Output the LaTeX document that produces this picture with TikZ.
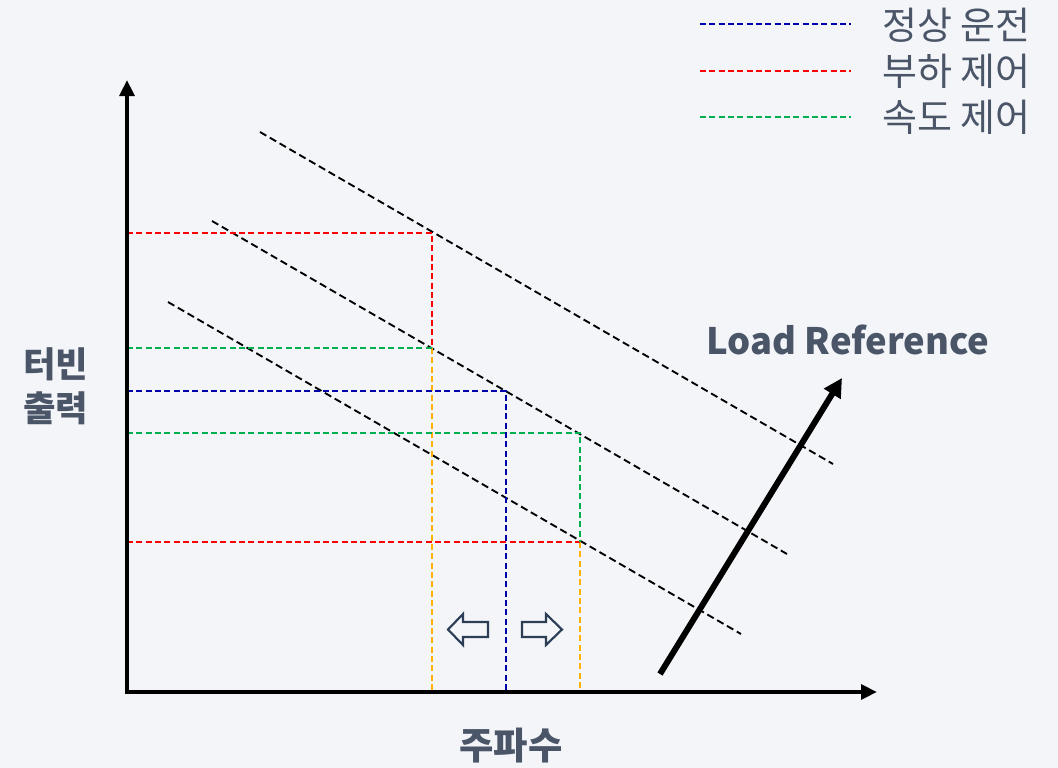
\documentclass[tikz,border=0pt]{standalone}
\usepackage{fontspec}
\setmainfont{Noto Sans CJK KR}
\usetikzlibrary{arrows.meta}
\definecolor{bg}{HTML}{F3F5F9}
\definecolor{txt}{HTML}{4A5568}
\definecolor{nblue}{HTML}{0000AA}
\definecolor{nred}{HTML}{FF0000}
\definecolor{ngreen}{HTML}{00B050}
\definecolor{norange}{HTML}{FFB000}
\definecolor{navy}{HTML}{2C3E55}
\tikzset{
  axis/.style={line width=3.2pt,-{Triangle[length=12pt,width=11pt]}},
  refline/.style={black,line width=1.4pt,dash pattern=on 5.5pt off 3pt},
  cdash/.style={line width=1.7pt,dash pattern=on 4.5pt off 2.5pt},
  legtxt/.style={anchor=west,inner sep=0pt,text=txt,font=\fontsize{28.5}{30}\selectfont},
  lbl/.style={inner sep=0pt,text=txt,font=\bfseries\fontsize{26.5}{33}\selectfont,align=center},
  hollow/.style={draw=navy,line width=1.6pt,fill=bg,line join=miter}
}
\begin{document}
\begin{tikzpicture}[x=0.75pt,y=-0.75pt]
\fill[bg] (0,0) rectangle (1058,768);
\useasboundingbox (0,0) rectangle (1058,768);

% coordinates
\coordinate (O) at (127,692);
\coordinate (Ytop) at (127,80);
\coordinate (Xend) at (877,692);

% reference lines
\coordinate (A1) at (260,132); \coordinate (A2) at (833,464);
\coordinate (B1) at (212,221); \coordinate (B2) at (787,554);
\coordinate (C1) at (168,302); \coordinate (C2) at (741,634);
\draw[refline] (A1) -- (A2);
\draw[refline] (B1) -- (B2);
\draw[refline] (C1) -- (C2);

% points
\coordinate (Pr1) at (432,233);
\coordinate (Pg1) at (432,348);
\coordinate (Pb) at (506,391);
\coordinate (Pg2) at (580,433);
\coordinate (Pr2) at (580,542);

% orange verticals
\draw[cdash,norange] (Pg1) -- (432,692);
\draw[cdash,norange] (Pr2) -- (580,692);
% red
\draw[cdash,nred] (127,233) -- (Pr1) -- (Pg1);
\draw[cdash,nred] (127,542) -- (Pr2);
% green
\draw[cdash,ngreen] (127,348) -- (Pg1);
\draw[cdash,ngreen] (127,433) -- (Pg2) -- (Pr2);
% blue
\draw[cdash,nblue] (127,391) -- (Pb) -- (506,692);

% axes
\draw[axis] (127,694) -- (Ytop);
\draw[axis] (125,692) -- (Xend);

% load reference arrow
\coordinate (L1) at (660,674);
\coordinate (L2) at (842,378);
\draw[line width=4.5pt,-{Triangle[length=14pt,width=14pt]}] (L1) -- (L2);
\node[inner sep=0pt,text=txt,font=\bfseries\fontsize{27.3}{32}\selectfont] (lr) at (848,340) {Load Reference};

% hollow arrows
\draw[hollow] (448,629.5) -- (463,614) -- (463,622) -- (488,622) -- (488,637) -- (463,637) -- (463,645) -- cycle;
\draw[hollow] (562,629.5) -- (546,614) -- (546,622) -- (522,622) -- (522,637) -- (546,637) -- (546,645) -- cycle;

% axis labels
\node[lbl] (ylab) at (56,386) {터빈\\출력};
\node[lbl,font=\bfseries\fontsize{28}{33}\selectfont] (xlab) at (511,746) {주파수};

% legend
\draw[cdash,nblue] (700,24) -- (851,24);
\draw[cdash,nred] (700,71) -- (851,71);
\draw[cdash,ngreen] (700,117) -- (851,117);
\node[legtxt] (l1) at (882,25) {정상 운전};
\node[legtxt] (l2) at (882,71) {부하 제어};
\node[legtxt] (l3) at (882,117) {속도 제어};
\end{tikzpicture}
\end{document}
